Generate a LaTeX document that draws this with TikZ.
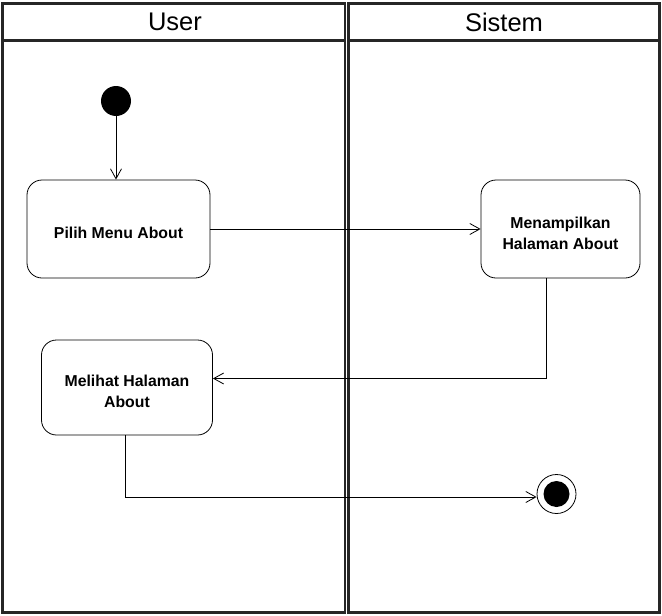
\documentclass[tikz,border=0pt]{standalone}
\usepackage{fontspec}
\setmainfont{Liberation Sans}
\usetikzlibrary{arrows.meta,calc}
\newcommand{\upstrut}{\rule{0pt}{20pt}}
\begin{document}
\begin{tikzpicture}[x=1pt,y=-1pt,
  lane/.style={draw=black!85,line width=2.2pt},
  title/.style={font=\fontsize{25.5}{28}\selectfont,inner sep=0pt},
  act/.style={draw,line width=0.8pt,rounded corners=15pt,align=center,
    font=\fontsize{15.8}{21}\selectfont\bfseries,inner sep=0pt},
  arr/.style={draw,line width=0.8pt,-{Straight Barb[length=10pt,width=11pt,line width=0.8pt]}},
  startnode/.style={circle,fill=black,inner sep=0pt,minimum size=30pt},
  endnode/.style={circle,draw,line width=0.8pt,inner sep=0pt,minimum size=39pt,
    path picture={\fill (path picture bounding box.center) circle (13pt);}}]
\useasboundingbox (0,0) rectangle (662,616);
% swimlanes
\draw[lane] (2.5,3.5) rectangle (345,612.5);
\draw[lane] (348.5,3.5) rectangle (659.5,612.5);
\draw[lane] (2.5,40.5) -- (345,40.5);
\draw[lane] (348.5,40.5) -- (659.5,40.5);
\node[title] (tuser) at (175,22) {User};
\node[title] (tsis) at (504,22) {Sistem};
% nodes
\node[startnode] (start) at (116,101) {};
\node[act,minimum width=183pt,minimum height=98pt] (b1) at (118.5,229) {\upstrut Pilih Menu About};
\node[act,minimum width=159pt,minimum height=98pt] (b2) at (560.5,229) {\upstrut Menampilkan\\Halaman About};
\node[act,minimum width=171pt,minimum height=95pt] (b3) at (127,387.5) {\upstrut Melihat Halaman\\About};
\node[endnode] (end) at (556.5,494) {};
% connectors
\draw[arr] (start) -- (start |- b1.north);
\draw[arr] (b1.east) -- (b2.west);
\draw[arr] ([xshift=-14.5pt]b2.south) |- ([yshift=9pt]b3.east);
\draw[arr] ([xshift=-2pt]b3.south) |- ([yshift=-3pt]end.west);
\end{tikzpicture}
\end{document}
